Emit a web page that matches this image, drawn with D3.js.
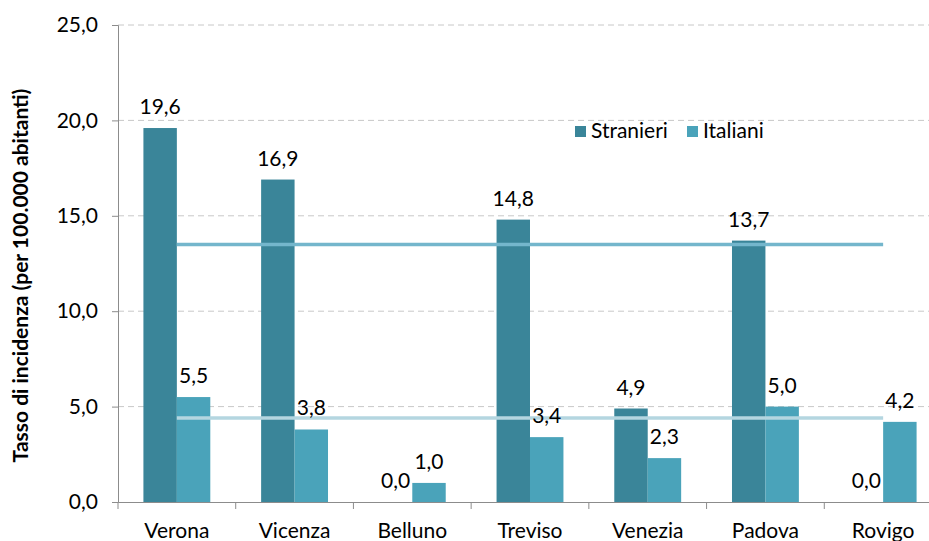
<!DOCTYPE html>
<html>
<head>
<meta charset="utf-8">
<script src="https://cdn.jsdelivr.net/npm/d3@7"></script>
<style>
body { margin: 0; background: #fff; }
text { font-family: Lato, "Open Sans", sans-serif; fill: #000; }
</style>
</head>
<body>
<script>
var province = ["Verona", "Vicenza", "Belluno", "Treviso", "Venezia", "Padova", "Rovigo"];
var stranieri = [19.6, 16.9, 0.0, 14.8, 4.9, 13.7, 0.0];
var italiani = [5.5, 3.8, 1.0, 3.4, 2.3, 5.0, 4.2];
var series = ["Stranieri", "Italiani"];
var mediaRegione = [13.5, 4.4];
var yTicks = [0, 5, 10, 15, 20, 25];

var colori = ["#3a8599", "#4aa3ba"];
var coloriLinee = ["#74b6cc", "#b4d6e0"];

var width = 929, height = 541;
var margin = {top: 25, right: -13, bottom: 39, left: 118};

var svg = d3.select("body")
    .append("svg")
    .attr("width", width)
    .attr("height", height);

var g = svg.append("g")
    .attr("transform", "translate(" + margin.left + "," + margin.top + ")");

var w = width - margin.left - margin.right, h = height - margin.top - margin.bottom;

var x = d3.scaleBand().domain(province).range([0, w]);
var xs = d3.scaleBand().domain(series).range([0, x.bandwidth()]).paddingInner(0).paddingOuter(0.76);
var y = d3.scaleLinear().domain([0, 25]).range([h, 0]);

var fmt = function(v) { return d3.format(".1f")(v).replace(".", ","); };

// griglia
g.selectAll("line.grid")
    .data(yTicks.slice(1))
    .enter()
    .append("line")
    .attr("x1", 0)
    .attr("x2", w)
    .attr("y1", function(d) { return y(d); })
    .attr("y2", function(d) { return y(d); })
    .attr("stroke", "#c8c8c8")
    .attr("stroke-dasharray", "6,4");

// asse y
var yAxis = g.append("g")
    .call(d3.axisLeft(y).tickValues(yTicks).tickFormat(fmt).tickSizeOuter(0).tickSize(6));
yAxis.select(".domain").attr("stroke", "#8c8c8c");
yAxis.selectAll(".tick line").attr("stroke", "#8c8c8c");
yAxis.selectAll("text").attr("x", -20).style("font-size", "21px").style("font-family", "Lato, sans-serif").attr("fill", "#000");

var dati = [stranieri, italiani];

series.forEach(function(s, si) {
    g.selectAll("rect.s" + si)
        .data(province)
        .enter()
        .append("rect")
        .attr("x", function(d) { return x(d) + xs(s); })
        .attr("y", function(d, i) { return y(dati[si][i]); })
        .attr("width", xs.bandwidth())
        .attr("height", function(d, i) { return h - y(dati[si][i]); })
        .attr("fill", colori[si]);
});

// asse x
var xAxis = g.append("g")
    .attr("transform", "translate(0," + h + ")")
    .call(d3.axisBottom(x).tickSize(0).tickSizeOuter(0));
xAxis.select(".domain").attr("stroke", "#8c8c8c");
xAxis.selectAll("text").attr("dy", "1.55em").style("font-size", "21px").style("font-family", "Lato, sans-serif").attr("fill", "#000");
g.selectAll("line.sep")
    .data(province)
    .enter()
    .append("line")
    .attr("x1", function(d) { return x(d); })
    .attr("x2", function(d) { return x(d); })
    .attr("y1", h)
    .attr("y2", h + 7)
    .attr("stroke", "#8c8c8c");

// linee valore regionale
series.forEach(function(s, si) {
    g.append("line")
        .attr("x1", x(province[0]) + x.bandwidth() / 2)
        .attr("x2", x(province[province.length - 1]) + x.bandwidth() / 2)
        .attr("y1", y(mediaRegione[si]))
        .attr("y2", y(mediaRegione[si]))
        .attr("stroke", coloriLinee[si])
        .attr("stroke-width", 3.5);
});

// etichette
series.forEach(function(s, si) {
    g.selectAll("text.l" + si)
        .data(province)
        .enter()
        .append("text")
        .attr("x", function(d) { return x(d) + xs(s) + xs.bandwidth() / 2; })
        .attr("y", function(d, i) { return y(dati[si][i]) - 14; })
        .attr("text-anchor", "middle")
        .style("font-size", "21px")
        .text(function(d, i) { return fmt(dati[si][i]); });
});

// legenda
var legenda = g.append("g").attr("transform", "translate(457,106)");
series.forEach(function(s, si) {
    var lx = si * 112;
    legenda.append("rect").attr("x", lx).attr("y", -5).attr("width", 11).attr("height", 11).attr("fill", colori[si]);
    legenda.append("text").attr("x", lx + 16).attr("y", 0).attr("dy", "0.35em").style("font-size", "21px").text(s);
});

svg.append("text")
    .attr("transform", "translate(28," + (margin.top + h / 2 + 12) + ") rotate(-90)")
    .attr("text-anchor", "middle")
    .style("font-size", "21px")
    .style("font-weight", "bold")
    .text("Tasso di incidenza (per 100.000 abitanti)");
</script>
</body>
</html>
